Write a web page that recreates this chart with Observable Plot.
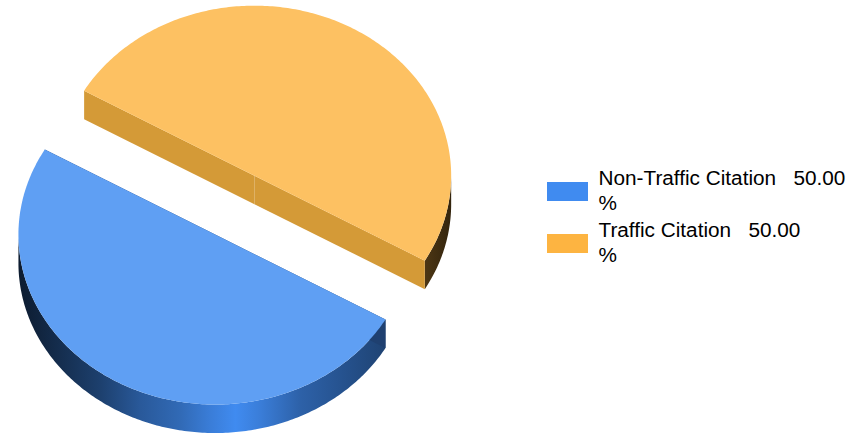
<!DOCTYPE html>
<html>
<head>
<meta charset="utf-8">
<style>html,body{margin:0;padding:0;background:#fff}svg{display:block}</style>
<script src="https://cdn.jsdelivr.net/npm/d3@7"></script>
<script src="https://cdn.jsdelivr.net/npm/@observablehq/plot@0.6"></script>
</head>
<body>
<div id="chart"></div>
<script>
const categories = ["Non-Traffic Citation", "Traffic Citation"];
const values = [50, 50];
const valueLabels = ["50.00", "50.00"];
const unit = "%";
const swatchColors = ["#408bf0", "#fdb441"];
const topColors = ["#5f9ff3", "#fdc162"];
const cutColors = ["#1f4070", "#d49a37"];

const W = 867, H = 435;
const C = {x: 234.3, y: 204.6}, RX = 196.7, RY = 170, DEPTH = 28.5, EXPLODE = 0.2;
const START = Math.PI / 6; // first slice starts 30° below the horizontal, clockwise on screen

const arcs = d3.pie().sort(null).startAngle(START).endAngle(START + 2 * Math.PI)(values);

function sliceGeom(d) {
  const a0 = d.startAngle, a1 = d.endAngle, mid = (a0 + a1) / 2;
  const c = {x: C.x + EXPLODE * RX * Math.cos(mid), y: C.y + EXPLODE * RY * Math.sin(mid)};
  const pt = (a, dz = 0) => ({x: c.x + RX * Math.cos(a), y: c.y + RY * Math.sin(a) + dz});
  const n = 240, ang = d3.range(n + 1).map(i => a0 + (a1 - a0) * i / n);
  const top = [c, ...ang.map(a => pt(a))];
  const front = ang.filter(a => Math.sin(a) >= 0);
  const rim = [...front.map(a => pt(a)), ...front.slice().reverse().map(a => pt(a, DEPTH))];
  const cut = a => [c, pt(a), pt(a, DEPTH), {x: c.x, y: c.y + DEPTH}];
  return {top, rim, cutA: cut(a0), cutB: cut(a1)};
}
const geoms = arcs.map(sliceGeom);

const rimStops = [
  [19, 0.20], [60, 0.33], [100, 0.46], [140, 0.64], [180, 0.76], [210, 0.90], [235, 1],
  [260, 0.90], [300, 0.70], [340, 0.60], [385, 0.48], [425, 0.30], [451, 0.20]
];
const gradients = () => {
  const defs = d3.create("svg:defs");
  swatchColors.forEach((col, i) => {
    const g = defs.append("linearGradient").attr("id", "rim" + i)
      .attr("gradientUnits", "userSpaceOnUse")
      .attr("x1", 0).attr("x2", W).attr("y1", 0).attr("y2", 0);
    rimStops.forEach(([x, k]) => {
      const c = d3.rgb(col);
      g.append("stop").attr("offset", x / W)
        .attr("stop-color", d3.rgb(c.r * k, c.g * k, c.b * k).formatHex());
    });
  });
  return defs.node();
};

const poly = (pts, fill) => Plot.line(pts, {x: "x", y: "y", fill, stroke: "none", curve: "linear-closed"});

const sliceMarks = order => order.flatMap(i => {
  const g = geoms[i];
  return [
    poly(g.rim, `url(#rim${i})`),
    poly(g.cutA, cutColors[i]),
    poly(g.cutB, cutColors[i]),
    poly(g.top, topColors[i])
  ];
});

const legendRows = categories.map((c, i) => ({
  label: `${c}   ${valueLabels[i]}\n${unit}`,
  color: swatchColors[i],
  row: i
}));
const LEG = {x0: 547, x1: 588, tx: 598, rowY: [166.4, 218.4], swY: [182, 234], swH: 19};

const plot = Plot.plot({
  width: W, height: H,
  margin: 0,
  style: {background: "#fff"},
  x: {axis: null, domain: [0, W], range: [0, W]},
  y: {axis: null, domain: [0, H], range: [0, H]},
  marks: [
    gradients,
    ...sliceMarks([1, 0]),
    Plot.rect(legendRows, {
      x1: () => LEG.x0, x2: () => LEG.x1,
      y1: d => LEG.swY[d.row], y2: d => LEG.swY[d.row] + LEG.swH,
      fill: d => d.color
    }),
    Plot.text(legendRows, {
      x: () => LEG.tx, y: d => LEG.rowY[d.row],
      text: "label", textAnchor: "start", lineAnchor: "top",
      fontFamily: "Liberation Sans, Arial, sans-serif", fontSize: 20.75, lineHeight: 1.21,
      fill: "#000"
    })
  ]
});
document.getElementById("chart").append(plot);
</script>
</body>
</html>
